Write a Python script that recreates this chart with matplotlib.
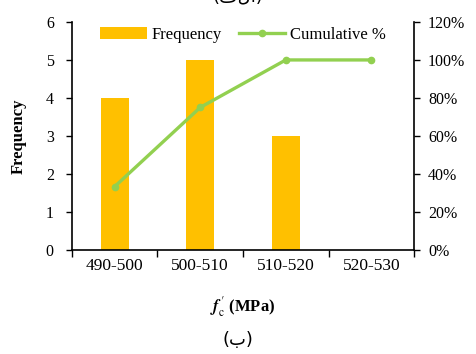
import matplotlib
matplotlib.use("Agg")
import matplotlib.pyplot as plt
import numpy as np
from matplotlib.ticker import FuncFormatter, FixedLocator

plt.rcParams['font.family'] = ['Liberation Serif', 'DejaVu Sans']
plt.rcParams['mathtext.fontset'] = 'stix'

categories = ["490-500", "500-510", "510-520", "520-530"]
frequency = [4, 5, 3, 0]
cumulative_pct = [33.33, 75.0, 100.0, 100.0]

bar_color = "#FFC000"
line_color = "#92D050"

fig = plt.figure(figsize=(4.76, 3.54), dpi=100)
ax = fig.add_axes([0.151, 0.294, 0.719, 0.644])

x = np.arange(len(categories))
ax.bar(x, frequency, width=0.33, color=bar_color, label="Frequency", zorder=2)
ax.set_xlim(-0.5, len(categories) - 0.5)
ax.set_ylim(0, 6)
ax.set_yticks(range(0, 7))
ax.set_xticks(x)
ax.set_xticklabels(categories, fontsize=12.5)
ax.xaxis.set_minor_locator(FixedLocator(np.arange(-0.5, len(categories), 1.0)))
ax.tick_params(axis='x', which='major', length=0, pad=6)
ax.tick_params(axis='x', which='minor', length=5, width=1, direction='out')
ax.tick_params(axis='y', length=4, width=1, direction='out', labelsize=11.5, pad=9)
ax.spines["top"].set_visible(False)
ax.spines["right"].set_visible(False)
ax.spines["left"].set_linewidth(1.2)
ax.spines["bottom"].set_linewidth(1.2)
ax.set_ylabel("Frequency", fontsize=12, fontweight='bold', labelpad=14)
ax.set_xlabel(r"$\mathbfit{f}^{\,\prime}_{\mathrm{c}}$ (MPa)", fontsize=12,
              fontweight='bold', labelpad=14)

ax2 = ax.twinx()
ax2.plot(x, cumulative_pct, color=line_color, lw=2.4, marker='o', markersize=4.5,
         label="Cumulative %", zorder=3)
ax2.set_ylim(0, 120)
ax2.set_yticks(range(0, 121, 20))
ax2.yaxis.set_major_formatter(FuncFormatter(lambda v, p: f"{v:.0f}%"))
ax2.tick_params(axis='y', length=4, width=1, direction='out', labelsize=11.5, pad=6)
for side in ("top", "left", "bottom"):
    ax2.spines[side].set_visible(False)
ax2.spines["right"].set_linewidth(1.2)

h1, l1 = ax.get_legend_handles_labels()
h2, l2 = ax2.get_legend_handles_labels()
ax2.legend(h1 + h2, l1 + l2, loc='upper center', ncol=2, frameon=False,
           fontsize=12, bbox_to_anchor=(0.5, 1.045), handlelength=2.8,
           columnspacing=1.0, handletextpad=0.3)

fig.text(0.5, 0.985, "(فلا)", ha='center', va='bottom', fontsize=13,
         family=['DejaVu Sans'])
fig.text(0.5, 0.04, "(ب)", ha='center', va='center', fontsize=13,
         family=['DejaVu Sans'])

fig.savefig("out.png", dpi=100)
